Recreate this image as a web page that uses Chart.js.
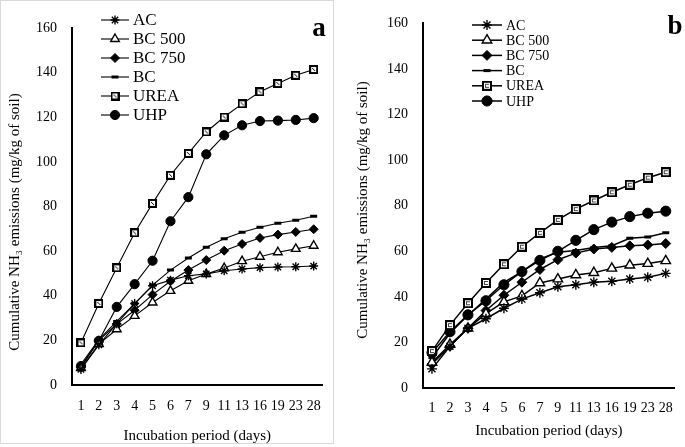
<!DOCTYPE html>
<html>
<head>
<meta charset="utf-8">
<script src="https://cdn.jsdelivr.net/npm/chart.js@4"></script>
<style>
    body { margin: 0; background: #fff; width: 685px; height: 447px; overflow: hidden; position: relative; }
    #frameA { position: absolute; left: 0; top: 0; width: 332px; height: 442px; border: 1px solid #d9d9d9; }
    #boxA { position: absolute; left: 0; top: 0; }
    #boxB { position: absolute; left: 334px; top: 0; }
</style>
</head>
<body>
<div id="frameA"></div>
<canvas id="boxA" width="334" height="447"></canvas>
<canvas id="boxB" width="351" height="447"></canvas>
<script>
// Cumulative NH3 emissions, mg/kg of soil
const days = ['1', '2', '3', '4', '5', '6', '7', '9', '11', '13', '16', '19', '23', '28'];
const seriesNames = ['AC', 'BC 500', 'BC 750', 'BC', 'UREA', 'UHP'];
const yTicks = [0, 20, 40, 60, 80, 100, 120, 140, 160];

// panel a
const acA     = [7, 18, 27.5, 36.5, 44.5, 47, 49, 49.8, 51.2, 52, 52.6, 52.9, 53, 53.3];
const bc500A  = [7.6, 18.3, 25, 31, 37, 42.2, 46.7, 49.7, 52.4, 55.5, 57.5, 59.5, 61, 62.4];
const bc750A  = [8, 20, 27.3, 33.5, 40.5, 46.5, 51.5, 56, 60.2, 63.2, 65.9, 67.4, 68.6, 69.8];
const bcA     = [9.3, 20.3, 28.5, 36.5, 44.8, 51.5, 56.9, 61.7, 65.5, 68.5, 70.7, 72.5, 73.8, 75.6];
const ureaA   = [18.9, 36.5, 52.5, 68.2, 81.4, 94, 103.8, 113.4, 120.1, 126, 131.4, 135.1, 138.8, 141.4];
const uhpA    = [8.5, 19.8, 35, 45.2, 55.7, 73.4, 84.2, 103.4, 111.9, 116.4, 118.3, 118.5, 118.8, 119.6];

// panel b
const acB     = [8.4, 18.3, 26.2, 30.4, 35, 39, 41.8, 44.4, 45.3, 46.4, 46.8, 47.8, 48.6, 50.3];
const bc500B  = [11.2, 19.1, 26.2, 32.6, 37.8, 40.4, 46.1, 47.8, 49.6, 50.6, 52.5, 53.9, 54.6, 55.8];
const bc750B  = [10.5, 18.3, 26.2, 34, 40.7, 46.4, 52, 56.3, 59.2, 61, 61.7, 62.4, 62.8, 63.4];
const bcB     = [13.4, 24, 31.9, 39, 46.4, 51.1, 56.7, 59.6, 60.3, 61.7, 62.4, 65.7, 66.3, 68.1];
const ureaB   = [16.2, 27.6, 37.2, 46.1, 54.3, 62, 68.1, 73.8, 78.5, 82.3, 85.9, 89.2, 92.3, 94.7];
const uhpB    = [15.5, 24.7, 32.1, 38.3, 45.3, 51.1, 56, 60, 64.8, 69.5, 72.8, 75.2, 76.7, 77.6];

const SERIF = "'Liberation Serif', 'Times New Roman', serif";

// little square markers like the ones excel draws for UREA
function ureaMark(size, style) {
    const c = document.createElement('canvas');
    c.width = c.height = size;
    const g = c.getContext('2d');
    g.fillStyle = '#000';
    g.fillRect(0, 0, size, size);
    g.fillStyle = '#fff';
    g.fillRect(2, 2, size - 4, size - 4);
    g.fillStyle = '#000';
    if (style === 'a') {
        for (let i = 3; i < size - 3; i++) g.fillRect(i, i, 1, 1);
    } else {
        g.fillStyle = '#444';
        g.fillRect(3, 3, size - 6, size - 6);
        g.fillStyle = '#fff';
        g.fillRect(4, 4, size - 7, 2);
    }
    return c;
}

function makeSets(values, lw, big) {
    const k = big ? 1.1 : 1;
    const base = { borderColor: '#000', borderWidth: lw, tension: 0, pointBorderColor: '#000' };
    return [
        { ...base, label: seriesNames[0], data: values[0], pointStyle: 'star', pointRadius: 4.5 * k, pointBorderWidth: 1.4, pointBackgroundColor: '#000' },
        { ...base, label: seriesNames[1], data: values[1], pointStyle: 'triangle', pointRadius: 5 * k, pointBorderWidth: 1.4, pointBackgroundColor: '#fff' },
        { ...base, label: seriesNames[2], data: values[2], pointStyle: 'rectRot', pointRadius: 4.5 * k, pointBorderWidth: 1, pointBackgroundColor: '#000' },
        { ...base, label: seriesNames[3], data: values[3], pointStyle: 'line', pointRadius: 3.5, pointBorderWidth: 3, pointBackgroundColor: '#000' },
        { ...base, label: seriesNames[4], data: values[4], pointStyle: ureaMark(big ? 10 : 9, big ? 'b' : 'a'), pointRadius: 5, pointBorderWidth: 1, pointBackgroundColor: '#fff' },
        { ...base, label: seriesNames[5], data: values[5], pointStyle: 'circle', pointRadius: 4.6 * k, pointBorderWidth: 1, pointBackgroundColor: '#000' }
    ];
}

// y title (with subscript), panel letter and the line+marker legend
const panelDecor = {
    id: 'panelDecor',
    afterDraw(chart, args, o) {
        const ctx = chart.ctx;
        ctx.save();
        ctx.fillStyle = '#000';
        // y title
        ctx.translate(o.yTitle.x, o.yTitle.y);
        ctx.rotate(-Math.PI / 2);
        ctx.font = o.yTitle.size + 'px ' + SERIF;
        ctx.textAlign = 'center';
        ctx.textBaseline = 'middle';
        ctx.fillText('Cumulative NH\u2083 emissions (mg/kg of soil)', 0, 0);
        ctx.restore();

        ctx.save();
        ctx.fillStyle = '#000';
        ctx.font = 'bold ' + o.letter.size + 'px ' + SERIF;
        ctx.textAlign = 'center';
        ctx.textBaseline = 'middle';
        ctx.fillText(o.letter.text, o.letter.x, o.letter.y);

        // legend
        const L = o.legend;
        ctx.font = L.size + 'px ' + SERIF;
        ctx.textAlign = 'left';
        chart.data.datasets.forEach((ds, i) => {
            const y = L.y + i * L.gap;
            ctx.strokeStyle = '#000';
            ctx.lineWidth = ds.borderWidth;
            ctx.beginPath();
            ctx.moveTo(L.x, y);
            ctx.lineTo(L.x + L.len, y);
            ctx.stroke();
            ctx.fillStyle = ds.pointBackgroundColor;
            ctx.strokeStyle = '#000';
            ctx.lineWidth = ds.pointBorderWidth;
            Chart.helpers.drawPoint(ctx, { pointStyle: ds.pointStyle, radius: ds.pointRadius, rotation: 0, borderWidth: ds.pointBorderWidth }, L.x + L.len / 2, y);
            ctx.fillStyle = '#000';
            ctx.fillText(ds.label, L.x + L.len + 4, y + 1);
        });
        ctx.restore();
    }
};

function buildChart(id, sets, geo) {
    return new Chart(document.getElementById(id), {
        type: 'line',
        data: { labels: days, datasets: sets },
        plugins: [panelDecor],
        options: {
            responsive: false,
            animation: false,
            layout: { padding: { top: geo.top, right: geo.right, left: 0, bottom: 0 } },
            plugins: {
                legend: { display: false },
                tooltip: { enabled: false },
                panelDecor: geo.decor
            },
            scales: {
                x: {
                    offset: true,
                    grid: { display: false, drawTicks: false },
                    border: { color: '#000', width: 2 },
                    ticks: { color: '#000', autoSkip: false, maxRotation: 0, padding: geo.xPad, font: { family: SERIF, size: 14 } },
                    title: { display: true, text: 'Incubation period (days)', color: '#000', font: { family: SERIF, size: 15 }, padding: { top: 0, bottom: geo.titlePad } },
                    afterFit: s => { s.height = geo.xH; }
                },
                y: {
                    min: yTicks[0],
                    max: yTicks[yTicks.length - 1],
                    grid: { display: false, drawTicks: false },
                    border: { color: '#000', width: 2 },
                    afterBuildTicks: s => { s.ticks = yTicks.map(v => ({ value: v })); },
                    ticks: { color: '#000', padding: 15, font: { family: SERIF, size: 14 } },
                    afterFit: s => { s.width = geo.yW; }
                }
            }
        }
    });
}

buildChart('boxA', makeSets([acA, bc500A, bc750A, bcA, ureaA, uhpA], 1.1, false), {
    top: 28, right: 9, xH: 62, yW: 72, xPad: 13, titlePad: 2,
    decor: {
        yTitle: { x: 15, y: 222, size: 15 },
        letter: { text: 'a', x: 319, y: 29, size: 27 },
        legend: { x: 101, y: 20, gap: 19, len: 28, size: 17 }
    }
});

buildChart('boxB', makeSets([acB, bc500B, bc750B, bcB, ureaB, uhpB], 1.5, true), {
    top: 13, right: 6, xH: 59, yW: 89, xPad: 12, titlePad: 7,
    decor: {
        yTitle: { x: 29, y: 210, size: 15 },
        letter: { text: 'b', x: 341, y: 27, size: 27 },
        legend: { x: 138, y: 25, gap: 15.2, len: 30, size: 14 }
    }
});
</script>
</body>
</html>
